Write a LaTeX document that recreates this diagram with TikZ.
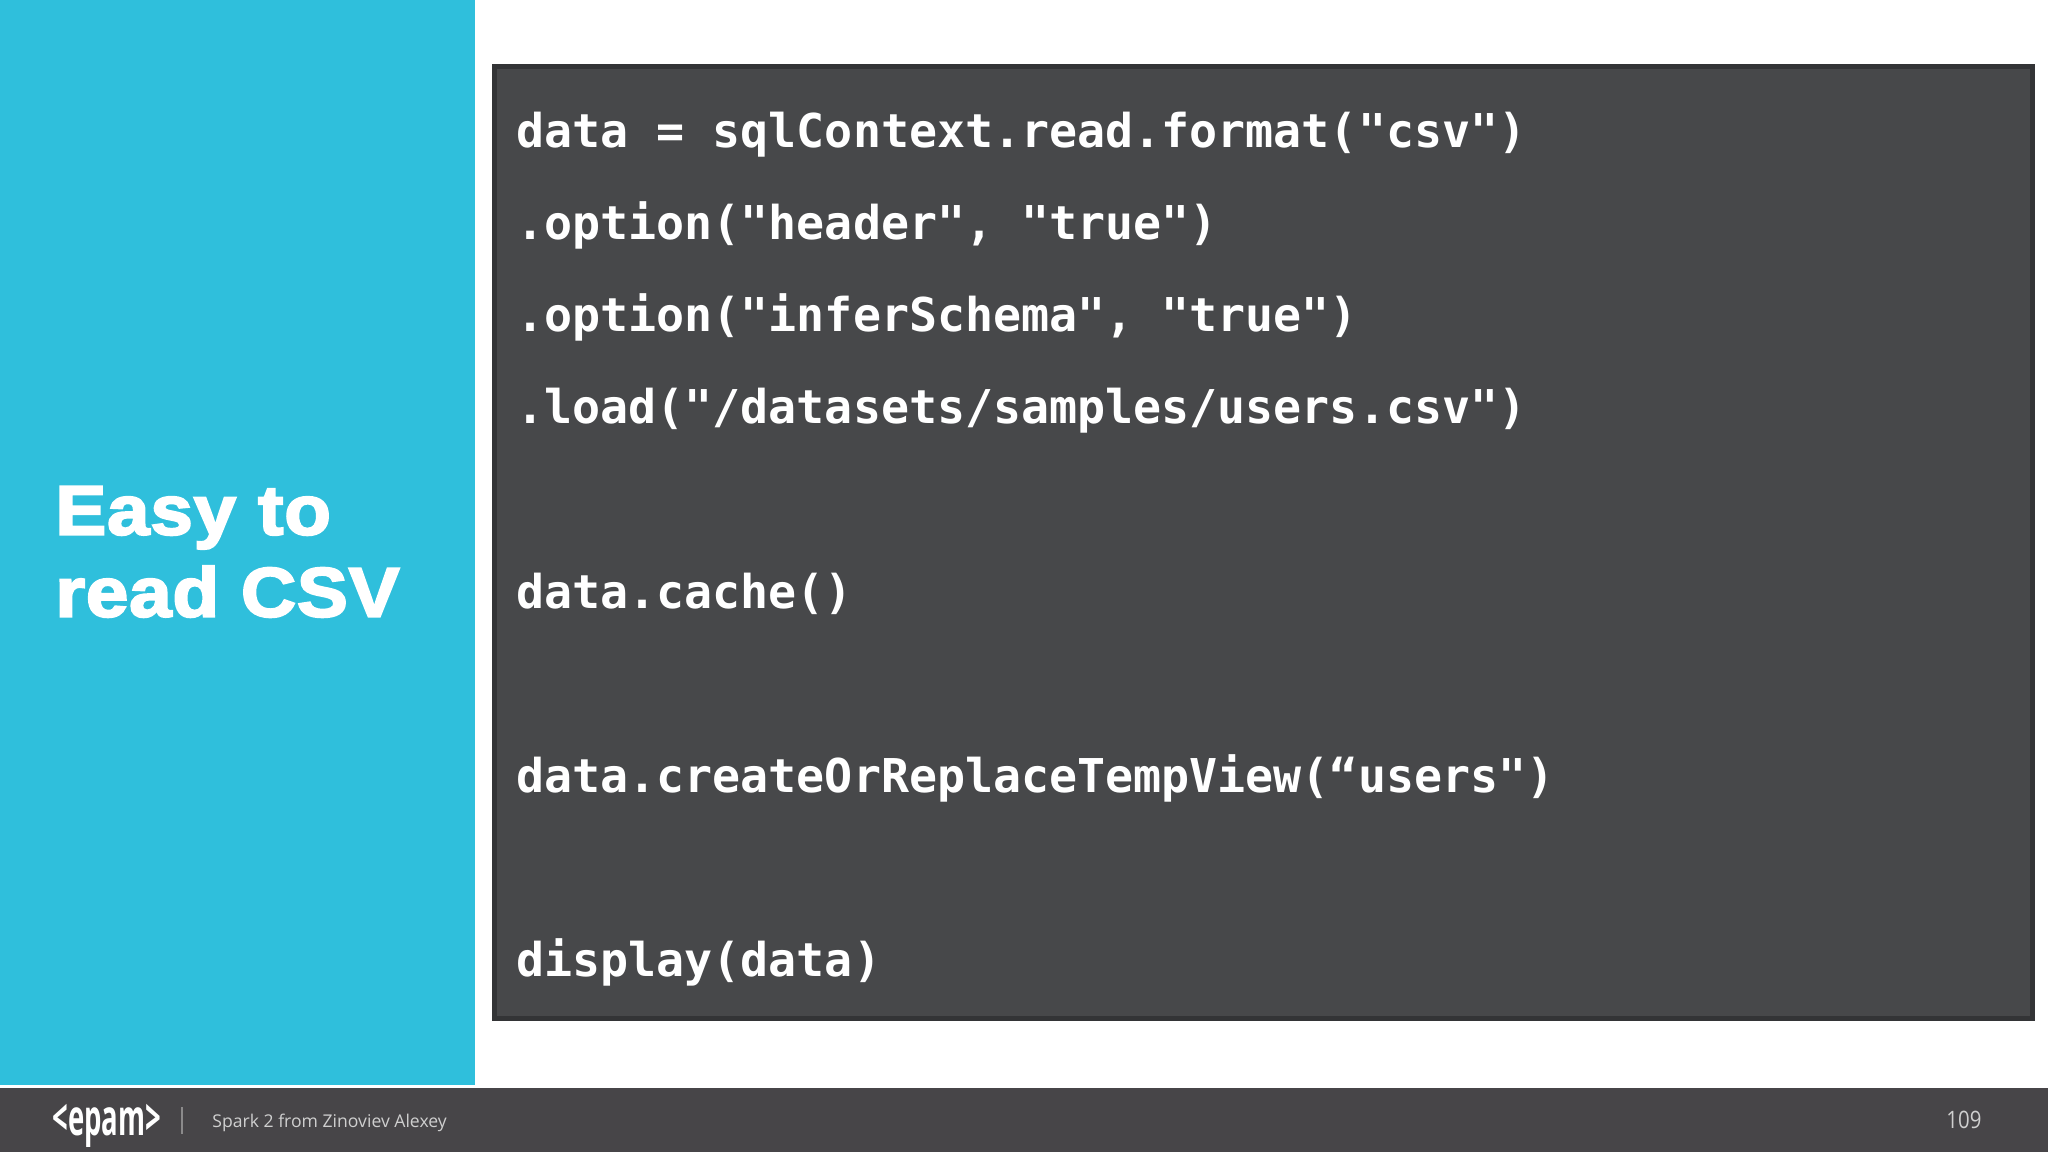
\documentclass[tikz,border=0pt]{standalone}
\usepackage{fontspec}
\usepackage{xcolor}
\usetikzlibrary{positioning}
\setmonofont{DejaVu Sans Mono}
\newfontfamily\titlefont[FakeStretch=1.09,FakeBold=3,LetterSpace=1.2]{Liberation Sans Bold}
\newfontfamily\footfont{Open Sans}
\newfontfamily\pagefont[FakeStretch=0.85]{Open Sans}
\newfontfamily\logofont[FakeStretch=0.55]{Open Sans Bold}
\definecolor{panelblue}{HTML}{2FBFDC}
\definecolor{boxgrey}{HTML}{47484A}
\definecolor{boxedge}{HTML}{333436}
\definecolor{footgrey}{HTML}{474548}
\definecolor{foottext}{HTML}{CFCFCF}
\tikzset{
  codeline/.style={inner sep=0pt,text=white,text width=750pt,align=flush left,
    text height=17pt,text depth=5pt,font=\ttfamily\bfseries\fontsize{23.3}{28}\selectfont},
  footlabel/.style={inner sep=0pt,text=foottext,anchor=base west}
}
\begin{document}
\begin{tikzpicture}[x=0.5pt,y=-0.5pt,node distance=46.1pt,on grid]
  \useasboundingbox (0,0) rectangle (2048,1152);
  \fill[white] (0,0) rectangle (2048,1152);
  \fill[panelblue] (0,0) rectangle (475,1085);
  \fill[footgrey] (0,1088) rectangle (2048,1152);
  \node[draw=boxedge,fill=boxgrey,line width=2.5pt,inner sep=0pt,anchor=north west,
    minimum width=769pt,minimum height=476pt] (box) at (492,64) {};
  \node[inner sep=0pt,anchor=north west,align=left,text=white,
    font=\titlefont\fontsize{35}{41}\selectfont] (title) at (55,486) {Easy to\\read CSV};
  \node[codeline,anchor=west] (line1) at (516,135) {data = sqlContext.read.format("csv")};
  \node[codeline] (line2) [below=of line1] {.option("header", "true")};
  \node[codeline] (line3) [below=of line2] {.option("inferSchema", "true")};
  \node[codeline] (line4) [below=of line3] {.load("/datasets/samples/users.csv")};
  \node[codeline] (line5) [below=92.2pt of line4] {data.cache()};
  \node[codeline] (line6) [below=92.2pt of line5] {data.createOrReplaceTempView(“users")};
  \node[codeline] (line7) [below=92.2pt of line6] {display(data)};
  \node[footlabel,text=white,font=\logofont\fontsize{25}{25}\selectfont] (logo) at (52,1135) {<epam>};
  \node[footlabel,font=\footfont\fontsize{8.8}{11}\selectfont] (source) at (212,1127) {Spark 2 from Zinoviev Alexey};
  \node[footlabel,font=\pagefont\fontsize{12}{14}\selectfont] (page) at (1946,1128) {109};
  \draw[foottext!50!footgrey,line width=0.6pt] (182,1107) -- (182,1134);
\end{tikzpicture}
\end{document}
